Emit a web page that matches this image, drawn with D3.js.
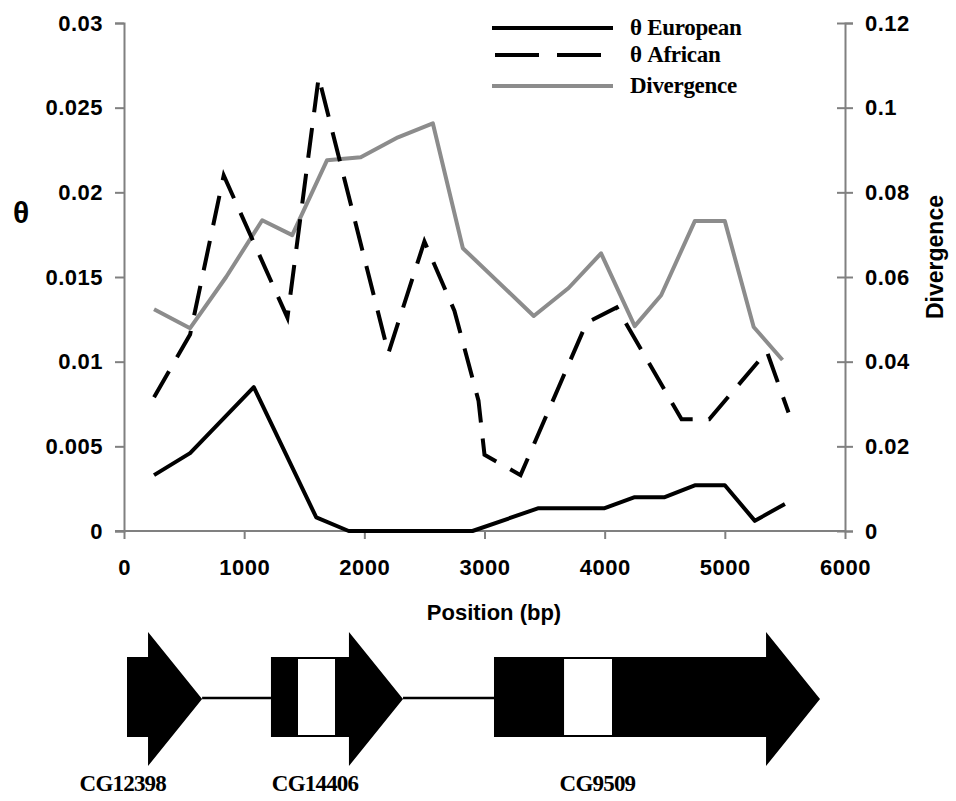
<!DOCTYPE html>
<html>
<head>
<meta charset="utf-8">
<script src="https://cdn.jsdelivr.net/npm/d3@7"></script>
<style>
  body { margin: 0; background: #fff; }
  svg { display: block; }
</style>
</head>
<body>
<svg id="chart" width="956" height="801"></svg>
<script>
// Sliding-window nucleotide diversity (theta) and divergence along the region (bp)
const europeanPos   = [250, 550, 1080, 1600, 1870, 2900, 3450, 4000, 4250, 4500, 4750, 5000, 5250, 5500];
const europeanTheta = [0.0033, 0.0046, 0.0085, 0.0008, 0, 0, 0.00135, 0.00135, 0.002, 0.002, 0.0027, 0.0027, 0.0006, 0.0016];

const africanPos   = [250, 550, 830, 1360, 1620, 2200, 2500, 2750, 2950, 3000, 3300, 3850, 4100, 4640, 4870, 5350, 5530];
const africanTheta = [0.0079, 0.0116, 0.0210, 0.0126, 0.0268, 0.0105, 0.0171, 0.0130, 0.0077, 0.0045, 0.0033, 0.0123, 0.0132, 0.0066, 0.0066, 0.0106, 0.0070];

const divergencePos = [250, 550, 850, 1150, 1400, 1690, 1970, 2280, 2570, 2820, 3410, 3700, 3970, 4250, 4470, 4750, 5000, 5240, 5480];
const divergence    = [0.0524, 0.0479, 0.060, 0.0734, 0.0699, 0.0876, 0.0883, 0.093, 0.0963, 0.0668, 0.0508, 0.0574, 0.0656, 0.0484, 0.0557, 0.0732, 0.0732, 0.0482, 0.0404];

const xTicks      = [0, 1000, 2000, 3000, 4000, 5000, 6000];
const thetaTicks  = [0, 0.005, 0.01, 0.015, 0.02, 0.025, 0.03];
const thetaLabels = ["0", "0.005", "0.01", "0.015", "0.02", "0.025", "0.03"];
const divTicks    = [0, 0.02, 0.04, 0.06, 0.08, 0.1, 0.12];
const divLabels   = ["0", "0.02", "0.04", "0.06", "0.08", "0.1", "0.12"];

// Gene models in bp: body start, arrowhead base, tip, non-coding (white) block
const geneNames  = ["CG12398", "CG14406", "CG9509"];
const geneStart  = [25, 1223, 3079];
const geneBase   = [200, 1872, 5343];
const geneTip    = [650, 2322, 5792];
const geneGap    = [null, [1448, 1756], [3662, 4061]];
const geneLabelX = [-10, 1590, 3940];

const legendNames = ["\u03b8 European", "\u03b8 African", "Divergence"];

const svg = d3.select("#chart");
const GRAY = "#8c8c8c";
const AXIS = "#808080";
const sans = "'Liberation Sans', Arial, sans-serif";
const serif = "'Liberation Serif', 'Times New Roman', serif";

const x  = d3.scaleLinear().domain([0, 6000]).range([124, 845]);
const yL = d3.scaleLinear().domain([0, 0.03]).range([531, 23]);
const yR = d3.scaleLinear().domain([0, 0.12]).range([531, 23]);

// Axes
const gx = svg.append("g").attr("transform", `translate(0,${yL(0)})`)
  .call(d3.axisBottom(x).tickValues(xTicks).tickFormat(d3.format("d")).tickSize(8).tickPadding(20));
const gl = svg.append("g").attr("transform", `translate(${x(0)},0)`)
  .call(d3.axisLeft(yL).tickValues(thetaTicks).tickFormat((d, i) => thetaLabels[i]).tickSize(9).tickPadding(12));
const gr = svg.append("g").attr("transform", `translate(${x(6000)},0)`)
  .call(d3.axisRight(yR).tickValues(divTicks).tickFormat((d, i) => divLabels[i]).tickSize(8).tickPadding(12));
gr.selectAll(".tick line").attr("x1", -8);
gx.select(".domain").attr("d", `M${x(0) - 9},0H${x(6000)}`);

[gx, gl, gr].forEach(g => {
  g.selectAll(".domain").attr("stroke", AXIS).attr("stroke-width", 2);
  g.selectAll(".tick line").attr("stroke", AXIS).attr("stroke-width", 2);
  g.selectAll(".tick text").attr("fill", "#000")
    .style("font-family", sans).style("font-size", "22px").style("font-weight", "bold")
    .style("letter-spacing", "0.5px");
});

// Axis titles
svg.append("text").attr("x", 21).attr("y", 223).attr("text-anchor", "middle")
  .style("font-family", sans).style("font-size", "30px").style("font-weight", "bold").text("\u03b8");
svg.append("text").attr("transform", "translate(943,257) rotate(-90)").attr("text-anchor", "middle")
  .style("font-family", sans).style("font-size", "23px").style("font-weight", "bold").text("Divergence");
svg.append("text").attr("x", 494).attr("y", 620).attr("text-anchor", "middle")
  .style("font-family", sans).style("font-size", "22px").style("font-weight", "bold").text("Position (bp)");

// Series
const lineL = d3.line().x(d => x(d[0])).y(d => yL(d[1]));
const lineR = d3.line().x(d => x(d[0])).y(d => yR(d[1]));

svg.append("path").datum(d3.zip(divergencePos, divergence))
  .attr("d", lineR).attr("fill", "none").attr("stroke", GRAY).attr("stroke-width", 4)
  .attr("stroke-linejoin", "round");
svg.append("path").datum(d3.zip(africanPos, africanTheta))
  .attr("d", lineL).attr("fill", "none").attr("stroke", "#000").attr("stroke-width", 4)
  .attr("stroke-dasharray", "30,16");
svg.append("path").datum(d3.zip(europeanPos, europeanTheta))
  .attr("d", lineL).attr("fill", "none").attr("stroke", "#000").attr("stroke-width", 4)
  .attr("stroke-linejoin", "round");

// Legend
const legend = svg.append("g");
const legendY = [28, 55, 86];
const legendStyle = [
  { stroke: "#000", dash: null },
  { stroke: "#000", dash: "44,18" },
  { stroke: GRAY, dash: null }
];
legendNames.forEach((name, i) => {
  legend.append("line")
    .attr("x1", i === 1 ? 495 : 492).attr("x2", i === 1 ? 603 : 613)
    .attr("y1", legendY[i]).attr("y2", legendY[i])
    .attr("stroke", legendStyle[i].stroke).attr("stroke-width", 4)
    .attr("stroke-dasharray", legendStyle[i].dash);
  legend.append("text").attr("x", 630).attr("y", legendY[i] + 7)
    .style("font-family", serif).style("font-size", "23px").style("font-weight", "bold")
    .style("letter-spacing", "-0.3px")
    .text(name);
});

// Gene structure below the axis
const gene = svg.append("g");
const arrowTop = 632, arrowBot = 766, bodyTop = 657, bodyBot = 737, midY = 699;

// connecting intergenic lines
for (let i = 0; i < geneNames.length - 1; i++) {
  gene.append("line")
    .attr("x1", x(geneTip[i])).attr("x2", x(geneStart[i + 1]))
    .attr("y1", 698).attr("y2", 698)
    .attr("stroke", "#000").attr("stroke-width", 2.5);
}
geneNames.forEach((name, i) => {
  const s = x(geneStart[i]), b = x(geneBase[i]), t = x(geneTip[i]);
  gene.append("path")
    .attr("d", `M${s},${bodyTop}H${b}V${arrowTop}L${t},${midY}L${b},${arrowBot}V${bodyBot}H${s}Z`)
    .attr("fill", "#000");
  if (geneGap[i]) {
    gene.append("rect")
      .attr("x", x(geneGap[i][0])).attr("width", x(geneGap[i][1]) - x(geneGap[i][0]))
      .attr("y", bodyTop + 2).attr("height", bodyBot - bodyTop - 4)
      .attr("fill", "#fff");
  }
  gene.append("text").attr("x", x(geneLabelX[i])).attr("y", 791).attr("text-anchor", "middle")
    .style("font-family", serif).style("font-size", "23px").style("font-weight", "bold")
    .style("letter-spacing", "-0.8px")
    .text(name);
});
</script>
</body>
</html>
